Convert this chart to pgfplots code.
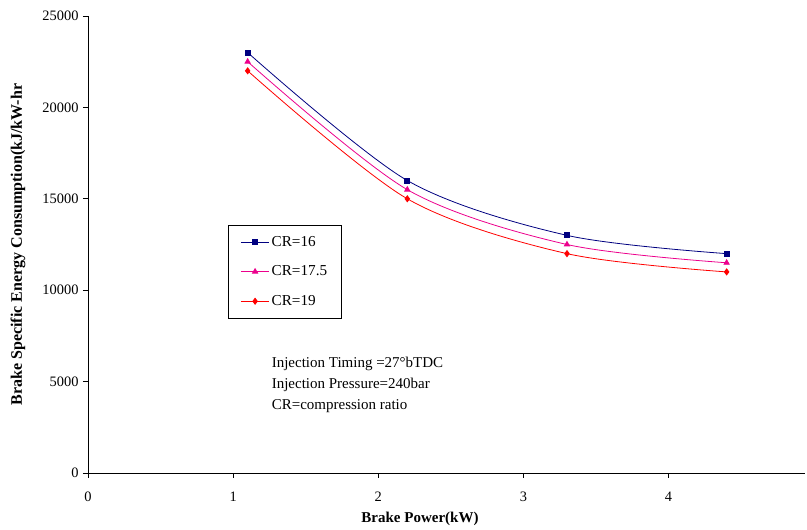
\documentclass[border=0pt]{standalone}
\usepackage{pgfplots}
\pgfplotsset{compat=1.18}
\usepackage{fontspec}
\setmainfont{Liberation Serif}
\begin{document}
\begin{tikzpicture}
\begin{axis}[
  scale only axis,
  width=717pt, height=457pt,
  xmin=0, xmax=4.94, ymin=0, ymax=25000,
  axis x line=bottom, axis y line=left,
  axis line style={-, line width=0.8pt},
  xtick={0,1,2,3,4}, ytick={0,5000,10000,15000,20000,25000},
  tick align=outside, major tick length=5pt,
  tick style={black, line width=0.8pt},
  /pgf/number format/assume math mode=true,
  /pgf/number format/1000 sep={},
  scaled y ticks=false,
  tick label style={font=\fontsize{14.4}{16}\selectfont},
  xticklabel style={yshift=-10pt},
  yticklabel style={xshift=-1pt},
  xlabel={\textbf{Brake Power(kW)}},
  ylabel={\textbf{Brake Specific Energy Consumption(kJ/kW-hr}},
  every axis x label/.style={at={(axis description cs:0.463,0)}, yshift=-46pt, anchor=center, font=\fontsize{15}{17}\selectfont},
  every axis y label/.style={at={(axis description cs:0,0.5)}, xshift=-70pt, anchor=center, rotate=90, font=\fontsize{16}{18}\selectfont},
  legend style={at={(axis cs:0.965,13570)}, anchor=north west, draw=black, line width=0.8pt,
    font=\fontsize{15.2}{18}\selectfont, row sep=14pt, inner xsep=12pt, inner ysep=9pt},
  legend cell align=left,
  legend image code/.code={\draw[mark repeat=2,mark phase=2] plot coordinates {(0cm,0cm) (0.5cm,0cm) (1cm,0cm)};},
  every axis plot/.append style={line width=0.8pt, smooth, tension=0.5},
]
\addplot[color={rgb,255:red,0;green,0;blue,128}, mark=square*, mark size=2.5pt, mark options={solid}]
  coordinates {(1.1,23000) (2.2,16000) (3.3,13000) (4.4,12000)};
\addlegendentry{CR=16}
\addplot[color=magenta, mark=triangle*, mark size=3pt]
  coordinates {(1.1,22500) (2.2,15500) (3.3,12500) (4.4,11500)};
\addlegendentry{CR=17.5}
\addplot[color=red, mark=diamond*, mark size=3pt]
  coordinates {(1.1,22000) (2.2,15000) (3.3,12000) (4.4,11000)};
\addlegendentry{CR=19}
\node[anchor=north west, align=left, font=\fontsize{15}{21}\selectfont, inner sep=0pt]
  at (axis cs:1.265,6330) {Injection Timing =27°bTDC\\Injection Pressure=240bar\\CR=compression ratio};
\end{axis}
\path ([shift={(-88pt,-55pt)}]current axis.south west) rectangle ([shift={(2pt,16pt)}]current axis.north east);
\end{tikzpicture}
\end{document}
